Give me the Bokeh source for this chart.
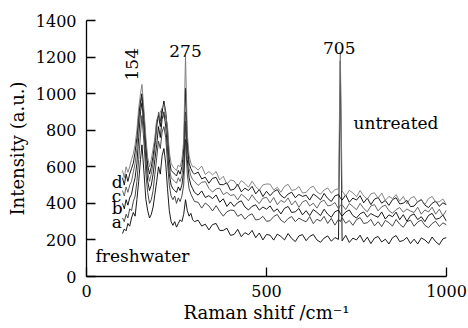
from bokeh.plotting import figure
from bokeh.models import Range1d, FixedTicker, Label
from bokeh.embed import file_html
from bokeh.resources import INLINE
import math

# Raman shift grid (cm^-1)
x_shift = [100, 105, 110, 115, 120, 125, 130, 135, 140, 145, 150, 154, 160, 165, 170, 175, 180, 185, 190, 195,
           200, 205, 210, 215, 220, 225, 230, 235, 240, 245, 250, 255, 260, 265, 270, 275, 280, 285, 290, 295, 300,
           310, 320, 330, 340, 350, 360, 370, 380, 390, 400,
           410, 420, 430, 440, 450, 460, 470, 480, 490, 500,
           510, 520, 530, 540, 550, 560, 570, 580, 590, 600,
           610, 620, 630, 640, 650, 660, 670, 680, 690, 700,
           705,
           710, 720, 730, 740, 750, 760, 770, 780, 790, 800,
           810, 820, 830, 840, 850, 860, 870, 880, 890, 900,
           910, 920, 930, 940, 950, 960, 970, 980, 990, 1000]

freshwater = [235, 260, 250, 290, 275, 320, 350, 330, 420, 520, 640, 720, 560, 420, 360, 320, 340, 380, 450, 520,
              600, 560, 660, 700, 620, 480, 360, 300, 280, 300, 270, 290, 310, 300, 340, 420, 360, 330, 345, 310, 300,
              308, 276, 286, 255, 284, 290, 252, 252, 264, 225,
              230, 258, 218, 240, 228, 252, 212, 238, 200, 230,
              226, 199, 232, 219, 200, 235, 208, 191, 222, 229,
              196, 219, 230, 200, 187, 210, 222, 193, 213, 203,
              1180,
              195, 225, 186, 210, 200, 226, 188, 215, 180, 210,
              219, 189, 204, 178, 212, 224, 191, 197, 214, 180,
              204, 178, 211, 200, 181, 216, 190, 174, 206, 213]

series_a = [320, 300, 340, 320, 370, 360, 410, 440, 520, 640, 780, 880, 720, 560, 460, 400, 420, 470, 560, 650,
            740, 700, 790, 820, 760, 620, 500, 440, 420, 440, 400, 430, 410, 440, 500, 750, 560, 480, 450, 430, 410,
            406, 374, 402, 386, 358, 388, 356, 330, 354, 363,
            361, 329, 341, 313, 333, 343, 309, 313, 329, 302,
            305, 328, 339, 308, 295, 317, 328, 300, 319, 308,
            299, 328, 289, 313, 303, 329, 290, 318, 281, 313,
            300,
            322, 291, 306, 280, 311, 322, 290, 294, 312, 277,
            300, 273, 307, 294, 276, 312, 286, 269, 300, 308,
            275, 298, 309, 280, 267, 290, 302, 274, 293, 283]

series_b = [400, 370, 420, 390, 430, 450, 500, 540, 620, 760, 900, 950, 800, 640, 520, 470, 500, 560, 640, 720,
            820, 760, 860, 900, 820, 700, 560, 500, 480, 470, 460, 490, 470, 500, 580, 850, 640, 540, 500, 480, 460,
            445, 468, 432, 442, 426, 446, 406, 425, 383, 408,
            383, 404, 414, 380, 364, 384, 392, 363, 380, 368,
            386, 355, 370, 342, 373, 383, 350, 354, 372, 337,
            360, 333, 366, 351, 333, 368, 341, 324, 354, 363,
            345,
            330, 353, 364, 333, 320, 343, 353, 325, 344, 333,
            324, 353, 314, 337, 327, 352, 311, 338, 302, 333,
            342, 311, 327, 300, 334, 345, 313, 318, 336, 302]

series_c = [470, 440, 490, 460, 500, 520, 570, 620, 700, 840, 940, 980, 840, 680, 570, 520, 560, 620, 700, 800,
            900, 850, 920, 870, 880, 760, 600, 540, 530, 520, 510, 540, 520, 550, 640, 900, 700, 590, 550, 530, 520,
            498, 515, 519, 482, 462, 479, 483, 448, 460, 443,
            448, 419, 450, 435, 414, 447, 418, 399, 428, 433,
            403, 432, 393, 416, 405, 430, 391, 414, 378, 408,
            417, 386, 401, 374, 407, 418, 386, 390, 405, 370,
            390,
            393, 366, 399, 383, 365, 400, 372, 354, 386, 393,
            359, 381, 391, 360, 346, 366, 377, 352, 369, 358,
            350, 379, 341, 364, 353, 379, 341, 368, 332, 363]

series_d = [540, 500, 560, 520, 560, 590, 620, 680, 760, 880, 960, 1000, 870, 720, 610, 560, 600, 660, 740, 840,
            880, 820, 900, 960, 900, 800, 640, 580, 570, 560, 550, 580, 560, 600, 700, 1030, 740, 620, 590, 570, 560,
            571, 534, 543, 510, 537, 542, 503, 502, 513, 472,
            477, 504, 463, 483, 470, 493, 452, 476, 437, 466,
            442, 464, 475, 443, 429, 451, 461, 431, 449, 438,
            445, 418, 451, 437, 419, 454, 427, 410, 441, 448,
            430,
            418, 446, 406, 429, 418, 442, 403, 429, 393, 423,
            432, 401, 416, 389, 420, 431, 397, 401, 416, 382,
            385, 409, 420, 390, 377, 400, 412, 384, 403, 392]

untreated = [580, 540, 600, 570, 600, 640, 670, 720, 800, 920, 1000, 1050, 900, 760, 650, 600, 640, 700, 760, 860,
             860, 900, 920, 940, 880, 820, 680, 620, 600, 590, 580, 610, 600, 640, 740, 1210, 780, 660, 620, 600, 600,
             582, 604, 558, 574, 556, 574, 528, 548, 504, 528,
             523, 494, 524, 509, 488, 521, 492, 472, 501, 506,
             505, 473, 488, 461, 493, 504, 471, 475, 492, 457,
             460, 483, 494, 463, 450, 473, 484, 456, 474, 480,
             1230,
             468, 440, 471, 457, 436, 470, 441, 423, 452, 458,
             428, 456, 416, 438, 426, 448, 412, 438, 398, 428,
             437, 406, 421, 394, 426, 438, 406, 409, 424, 392]

x_ticks = [0, 500, 1000]
y_ticks = [0, 200, 400, 600, 800, 1000, 1200, 1400]

FONT = "DejaVu Serif"

p = figure(width=468, height=328, output_backend="svg", toolbar_location=None,
           x_range=Range1d(0, 1000), y_range=Range1d(0, 1400),
           min_border_left=86, min_border_right=22, min_border_top=20, min_border_bottom=52)
p.xgrid.visible = False
p.ygrid.visible = False
p.outline_line_color = None
p.background_fill_color = "white"
p.border_fill_color = "white"

p.xaxis.ticker = FixedTicker(ticks=x_ticks)
p.yaxis.ticker = FixedTicker(ticks=y_ticks)
for ax in (p.xaxis, p.yaxis):
    ax.axis_line_color = "black"
    ax.axis_line_width = 1.3
    ax.major_tick_line_color = "black"
    ax.major_tick_line_width = 1.3
    ax.major_tick_in = 9
    ax.major_tick_out = 0
    ax.minor_tick_line_color = None
    ax.major_label_text_font = FONT
    ax.major_label_text_font_size = "16px"
    ax.major_label_text_color = "black"
    ax.axis_label_text_font = FONT
    ax.axis_label_text_font_size = "18px"
    ax.axis_label_text_font_style = "normal"
    ax.axis_label_text_color = "black"

p.xaxis.axis_label = "Raman shitf /cm⁻¹"
p.yaxis.axis_label = "Intensity (a.u.)"
p.xaxis.major_label_standoff = 8
p.xaxis.axis_label_standoff = 2
p.yaxis.major_label_standoff = 10
p.yaxis.axis_label_standoff = 5

series = [(freshwater, "black"), (series_a, "#333333"), (series_b, "black"),
          (series_c, "#555555"), (series_d, "black"), (untreated, "#777777")]
for ys, col in series:
    p.line(x_shift, ys, line_color=col, line_width=0.9)

def lab(x, y, t, **kw):
    p.add_layout(Label(x=x, y=y, text=t, text_font=FONT, text_font_size="17px",
                       text_color="black", **kw))

lab(126, 1072, "154", angle=math.pi / 2, text_align="left", text_baseline="middle")
lab(275, 1235, "275", text_align="center", text_baseline="alphabetic")
lab(702, 1251, "705", text_align="center", text_baseline="alphabetic")
lab(742, 842, "untreated", text_align="left", text_baseline="alphabetic")
lab(25, 111, "freshwater", text_align="left", text_baseline="alphabetic")
lab(70, 300, "a", text_align="left", text_baseline="alphabetic")
lab(70, 377, "b", text_align="left", text_baseline="alphabetic")
lab(70, 439, "c", text_align="left", text_baseline="alphabetic")
lab(70, 519, "d", text_align="left", text_baseline="alphabetic")

open("out.html", "w").write(file_html(p, INLINE))
